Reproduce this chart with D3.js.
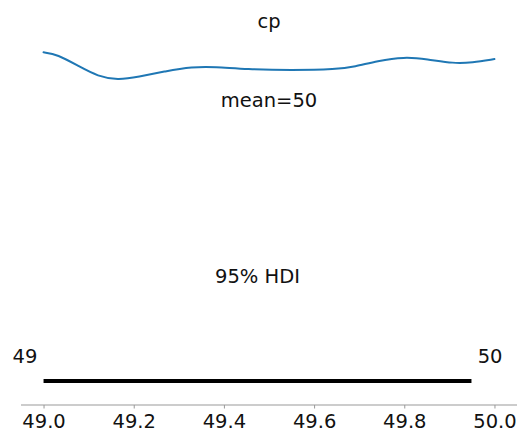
<!DOCTYPE html>
<html>
<head>
<meta charset="utf-8">
<script src="https://cdn.jsdelivr.net/npm/d3@7/dist/d3.min.js"></script>
<style>
  html, body { margin: 0; padding: 0; background: #fff; }
  svg { display: block; }
  text { font-family: "DejaVu Sans", sans-serif; fill: #111; }
</style>
</head>
<body>
<svg id="chart" width="526" height="443"></svg>
<script>
// ---- data ----
const varName = "cp";
const kdeX = [49.0, 49.03, 49.08, 49.12, 49.165, 49.21, 49.27, 49.33, 49.38, 49.45, 49.55, 49.65, 49.69, 49.74, 49.80, 49.85, 49.91, 49.95, 50.0];
const kdeY = [1.051, 1.045, 1.006, 0.976, 0.964, 0.974, 0.992, 1.006, 1.006, 0.998, 0.995, 0.998, 1.006, 1.024, 1.037, 1.030, 1.016, 1.019, 1.030];
const meanValue = 49.5;
const meanLabel = "mean=50";
const hdiBounds = [49.0, 49.949];
const hdiLabels = ["49", "50"];
const hdiText = "95% HDI";
const xTicks = [49.0, 49.2, 49.4, 49.6, 49.8, 50.0];

// ---- drawing ----
const FS = "19.5px";
const svg = d3.select("#chart");
const x = d3.scaleLinear().domain([48.95, 50.05]).range([21, 517]);
const plotHeight = 1.1;
const y = d3.scaleLinear().domain([0, plotHeight]).range([388, 36.7]);

// title
svg.append("text")
  .attr("x", (21 + 517) / 2).attr("y", 28)
  .attr("text-anchor", "middle")
  .style("font-size", FS)
  .text(varName);

// KDE line
const pts = kdeX.map((v, i) => [v, kdeY[i]]);
svg.append("path")
  .datum(pts)
  .attr("fill", "none")
  .attr("stroke", "#1f77b4")
  .attr("stroke-width", 2)
  .attr("stroke-linecap", "round")
  .attr("d", d3.line().x(d => x(d[0])).y(d => y(d[1])).curve(d3.curveBasis));

// mean text
svg.append("text")
  .attr("x", x(meanValue)).attr("y", y(plotHeight * 0.8))
  .attr("text-anchor", "middle")
  .style("font-size", FS)
  .text(meanLabel);

// HDI line
svg.append("line")
  .attr("x1", x(hdiBounds[0])).attr("x2", x(hdiBounds[1]))
  .attr("y1", y(plotHeight * 0.02)).attr("y2", y(plotHeight * 0.02))
  .attr("stroke", "#000").attr("stroke-width", 4);

// HDI labels
svg.append("text")
  .attr("x", x(hdiBounds[0])).attr("y", y(plotHeight * 0.07))
  .attr("text-anchor", "end")
  .style("font-size", FS).style("white-space", "pre")
  .text(hdiLabels[0] + " ");
svg.append("text")
  .attr("x", x(hdiBounds[1])).attr("y", y(plotHeight * 0.07))
  .attr("text-anchor", "start")
  .style("font-size", FS).style("white-space", "pre")
  .text(" " + hdiLabels[1]);

// HDI text
svg.append("text")
  .attr("x", x((hdiBounds[0] + hdiBounds[1]) / 2)).attr("y", y(plotHeight * 0.3))
  .attr("text-anchor", "middle")
  .style("font-size", FS)
  .text(hdiText);

// x axis
const axis = d3.axisBottom(x).tickValues(xTicks).tickFormat(d3.format(".1f")).tickSize(3.5).tickPadding(6);
const gx = svg.append("g").attr("transform", "translate(0,405)").call(axis);
gx.select(".domain").attr("stroke", "#999").attr("stroke-width", 1).attr("d", "M21,0H517");
gx.selectAll(".tick line").attr("stroke", "#999");
gx.selectAll(".tick text").style("font-size", FS).style("font-family", "DejaVu Sans, sans-serif").attr("fill", "#111");
</script>
</body>
</html>
